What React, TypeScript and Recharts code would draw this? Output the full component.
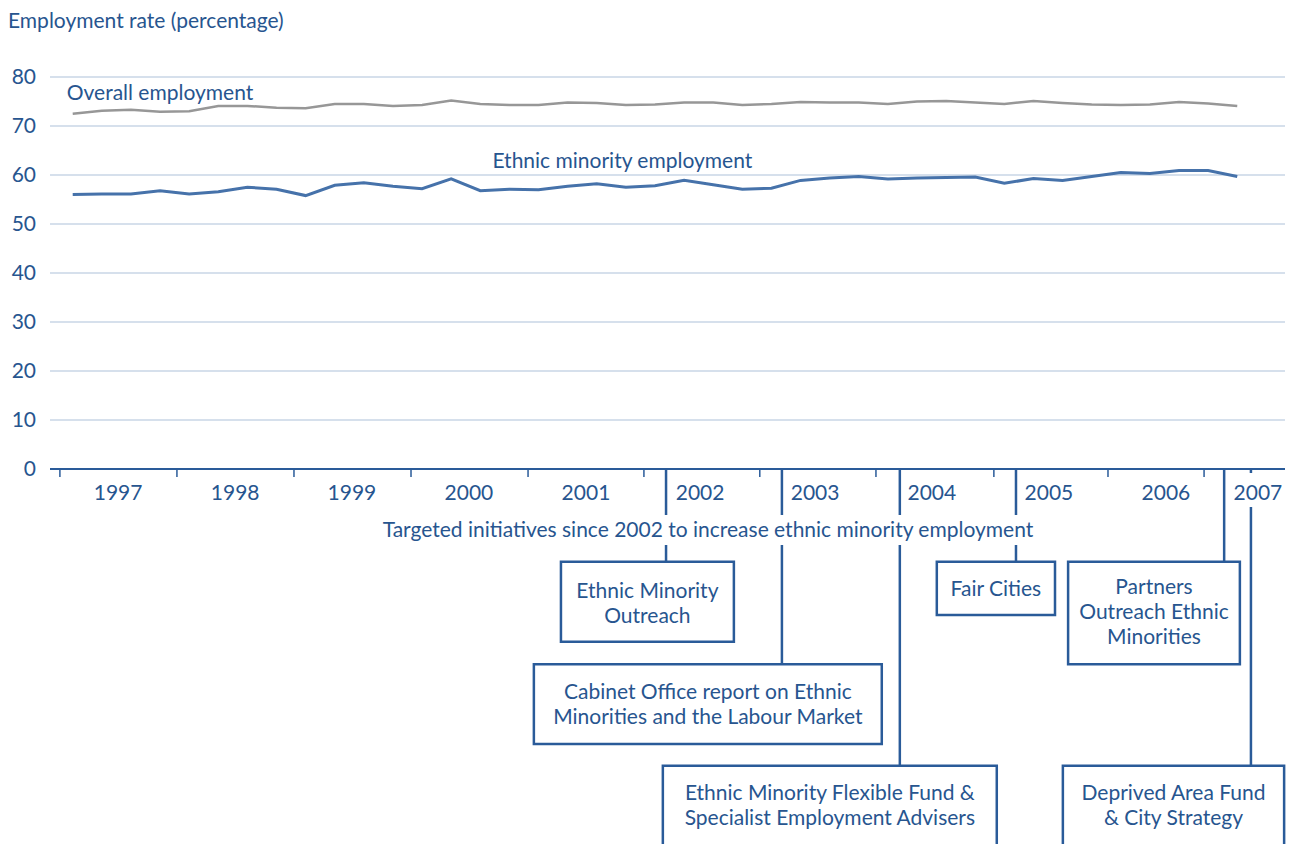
import React from 'react';
import {
  LineChart,
  Line,
  XAxis,
  YAxis,
  CartesianGrid,
  ReferenceLine,
  ReferenceArea,
  ReferenceDot,
} from 'recharts';

// ---------- data ----------
const quarters = [
  0, 1, 2, 3, 4, 5, 6, 7, 8, 9, 10, 11, 12, 13, 14, 15, 16, 17, 18, 19, 20,
  21, 22, 23, 24, 25, 26, 27, 28, 29, 30, 31, 32, 33, 34, 35, 36, 37, 38, 39, 40,
];

const overallEmployment = [
  72.5, 73.1, 73.3, 72.9, 73.0, 74.1, 74.1, 73.7, 73.6, 74.5, 74.5,
  74.1, 74.3, 75.2, 74.5, 74.3, 74.3, 74.8, 74.7, 74.3, 74.4,
  74.8, 74.8, 74.3, 74.5, 74.9, 74.8, 74.8, 74.5, 75.0, 75.1,
  74.8, 74.5, 75.1, 74.7, 74.4, 74.3, 74.4, 74.9, 74.6, 74.1,
];

const ethnicMinorityEmployment = [
  56.0, 56.1, 56.1, 56.8, 56.1, 56.6, 57.5, 57.1, 55.8, 57.9, 58.4,
  57.7, 57.2, 59.2, 56.8, 57.1, 57.0, 57.7, 58.2, 57.5, 57.8,
  58.9, 58.0, 57.1, 57.3, 58.9, 59.4, 59.7, 59.2, 59.4, 59.5,
  59.6, 58.3, 59.3, 58.9, 59.7, 60.5, 60.3, 60.9, 60.9, 59.7,
];

const yearLabels = ['1997', '1998', '1999', '2000', '2001', '2002', '2003', '2004', '2005', '2006', '2007'];
const yearLabelPositions = [1.56, 5.58, 9.59, 13.61, 17.63, 21.55, 25.5, 29.51, 33.53, 37.55, 40.71];
const yearBoundaries = [-0.44, 3.58, 7.6, 11.62, 15.64, 19.62, 23.6, 27.59, 31.64, 35.56, 38.86];

const yTicks = [0, 10, 20, 30, 40, 50, 60, 70, 80];

const initiatives = [
  { lines: ['Ethnic Minority', 'Outreach'], x1: 16.77, x2: 22.71, y1: -18.92, y2: -35.24, off: 36 },
  { lines: ['Cabinet Office report on Ethnic', 'Minorities and the Labour Market'], x1: 15.84, x2: 27.79, y1: -39.86, y2: -56.12, off: 35 },
  { lines: ['Ethnic Minority Flexible Fund &', 'Specialist Employment Advisers'], x1: 20.27, x2: 31.74, y1: -60.55, y2: -82, off: 34 },
  { lines: ['Fair Cities'], x1: 29.68, x2: 33.74, y1: -18.92, y2: -29.8, off: 34 },
  { lines: ['Partners', 'Outreach Ethnic', 'Minorities'], x1: 34.19, x2: 40.09, y1: -18.92, y2: -39.86, off: 32 },
  { lines: ['Deprived Area Fund', '& City Strategy'], x1: 34.01, x2: 41.61, y1: -60.55, y2: -82, off: 34 },
];

const connectors = [
  { x: 20.38, segs: [[0, -9.39], [-15.51, -18.92]] },
  { x: 24.36, segs: [[0, -9.39], [-15.51, -39.86]] },
  { x: 28.41, segs: [[0, -9.39], [-15.51, -60.55]] },
  { x: 32.4, segs: [[0, -9.39], [-15.51, -18.92]] },
  { x: 39.55, segs: [[0, -18.92]] },
  { x: 40.47, segs: [[0, -0.82], [-7.76, -60.55]] },
];

const data = quarters.map((q, i) => ({
  q,
  overall: overallEmployment[i],
  ethnic: ethnicMinorityEmployment[i],
}));

// ---------- styles ----------
const FONT = 'Lato, "Noto Sans", sans-serif';
const FS = 21;
const TEXT = '#27558f';
const BLUE = '#2a5b99';
const ETHNIC = '#4672aa';
const GRAY = '#979797';
const GRID = '#c8d6e6';

const YearTick = (props: any) => {
  const { x, y, payload } = props;
  const v = payload.value;
  const li = yearLabelPositions.indexOf(v);
  if (li >= 0) {
    return (
      <text x={x} y={y + 31} textAnchor="middle" fill={TEXT} fontSize={FS} fontFamily={FONT}>
        {yearLabels[li]}
      </text>
    );
  }
  return <line x1={x} x2={x} y1={y} y2={y + 8} stroke={BLUE} strokeWidth={1.5} />;
};

const textLabel = (value: string) => (p: any) => {
  const vb = p.viewBox || {};
  return (
    <text x={vb.x} y={vb.y} textAnchor="middle" fill={TEXT} fontSize={FS} fontFamily={FONT}>
      {value}
    </text>
  );
};

const boxLabel = (lines: string[], off: number) => (p: any) => {
  const vb = p.viewBox || {};
  const cx = vb.x + vb.width / 2;
  const top = Math.min(vb.y, vb.y + vb.height);
  return (
    <text textAnchor="middle" fill={TEXT} fontSize={FS} fontFamily={FONT}>
      {lines.map((l, i) => (
        <tspan key={i} x={cx} y={top + off + i * 25}>
          {l}
        </tspan>
      ))}
    </text>
  );
};

export default function App() {
  return (
    <div style={{ position: 'absolute', left: 0, top: 0, width: 1295, height: 844, background: '#fff' }}>
      <div
        style={{
          position: 'absolute',
          left: 8,
          top: 10,
          fontFamily: FONT,
          fontSize: FS,
          lineHeight: '20px',
          color: TEXT,
          whiteSpace: 'nowrap',
        }}
      >
        Employment rate (percentage)
      </div>
      <LineChart
        width={1295}
        height={844}
        data={data}
        margin={{ top: 77, right: 10, left: 0, bottom: 345 }}
      >
        <CartesianGrid horizontal vertical={false} stroke={GRID} strokeWidth={1.5} />
        <XAxis
          dataKey="q"
          type="number"
          domain={[-0.78, 41.64]}
          allowDataOverflow
          ticks={[...yearBoundaries, ...yearLabelPositions]}
          interval={0}
          tick={<YearTick />}
          tickLine={false}
          tickSize={0}
          tickMargin={0}
          height={30}
          axisLine={{ stroke: BLUE, strokeWidth: 2 }}
        />
        <YAxis
          type="number"
          domain={[0, 80]}
          ticks={yTicks}
          interval={0}
          width={50}
          axisLine={false}
          tickLine={false}
          tickMargin={8}
          tick={{ fill: TEXT, fontSize: FS, fontFamily: FONT }}
        />
        <Line
          type="linear"
          dataKey="overall"
          stroke={GRAY}
          strokeWidth={2.5}
          dot={false}
          activeDot={false}
          isAnimationActive={false}
        />
        <Line
          type="linear"
          dataKey="ethnic"
          stroke={ETHNIC}
          strokeWidth={3}
          dot={false}
          activeDot={false}
          isAnimationActive={false}
        />
        <ReferenceDot x={3.0} y={75.31} r={0} fill="none" stroke="none" ifOverflow="visible" label={textLabel('Overall employment')} />
        <ReferenceDot x={18.88} y={61.37} r={0} fill="none" stroke="none" ifOverflow="visible" label={textLabel('Ethnic minority employment')} />
        <ReferenceDot
          x={21.82}
          y={-13.88}
          r={0}
          fill="none"
          stroke="none"
          ifOverflow="visible"
          label={textLabel('Targeted initiatives since 2002 to increase ethnic minority employment')}
        />
        {connectors.flatMap((c, ci) =>
          c.segs.map((s, si) => (
            <ReferenceLine
              key={`c${ci}-${si}`}
              segment={[
                { x: c.x, y: s[0] },
                { x: c.x, y: s[1] },
              ]}
              stroke={BLUE}
              strokeWidth={2.5}
              ifOverflow="visible"
            />
          ))
        )}
        {initiatives.map((b, i) => (
          <ReferenceArea
            key={`b${i}`}
            x1={b.x1}
            x2={b.x2}
            y1={b.y1}
            y2={b.y2}
            fill="#ffffff"
            fillOpacity={1}
            stroke={BLUE}
            strokeWidth={2.5}
            ifOverflow="visible"
            label={boxLabel(b.lines, b.off)}
          />
        ))}
      </LineChart>
    </div>
  );
}
